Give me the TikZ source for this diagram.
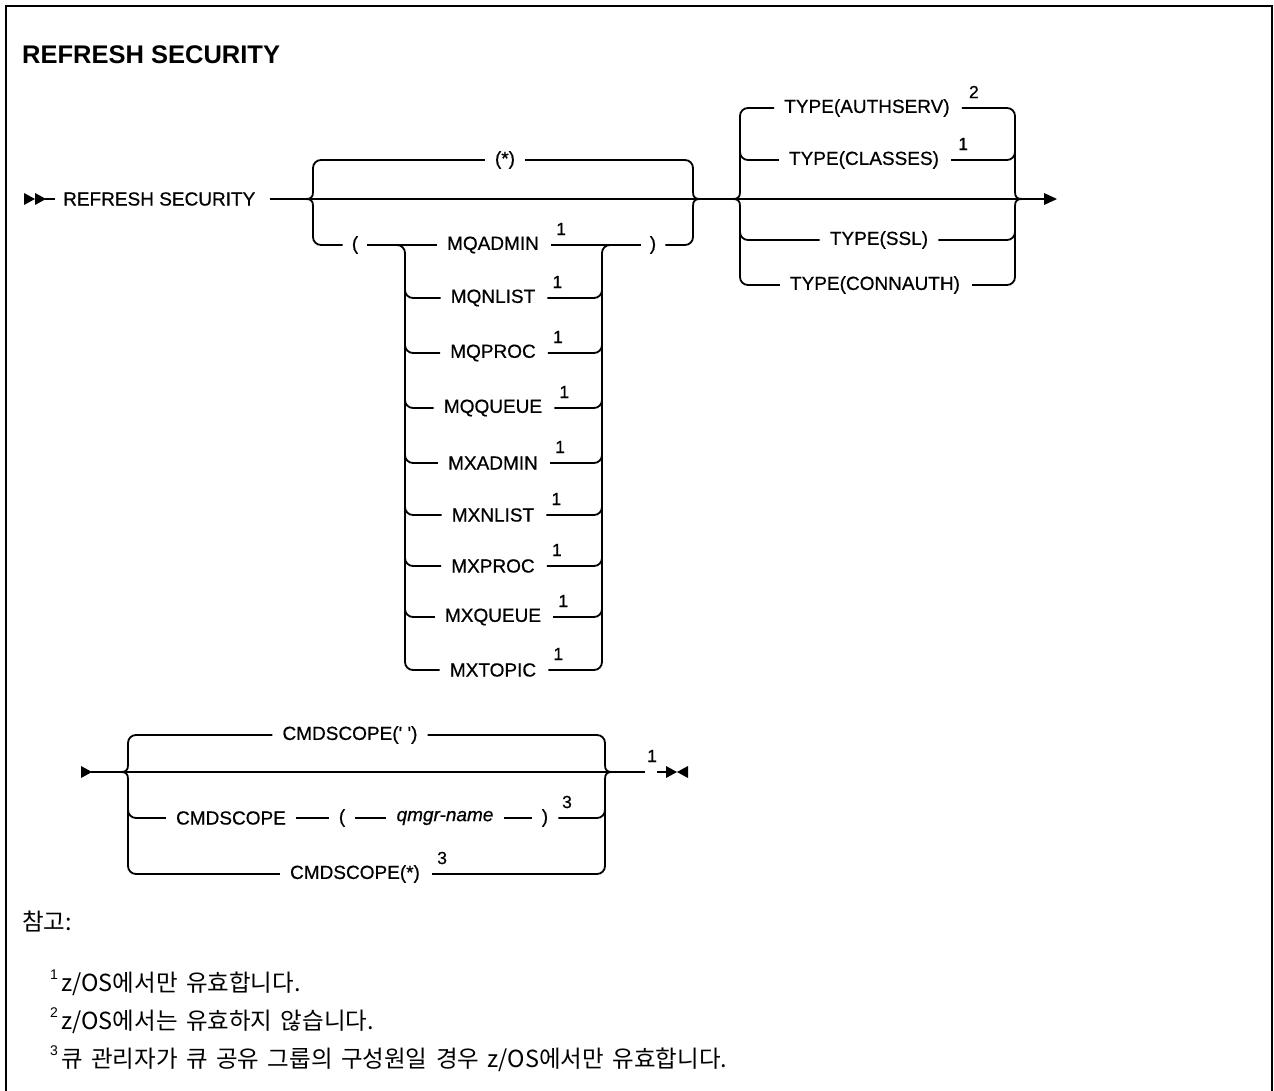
\documentclass[tikz,border=0pt]{standalone}
\usepackage{fontspec}
\setmainfont{Liberation Sans}
\newfontfamily\lblfont{Liberation Sans}[FakeBold=0.6]
\newfontfamily\krfont{Noto Sans CJK KR}[WordSpace=1.6]
\tikzset{
  rl/.style={line width=1.8pt},
  lbl/.style={font=\lblfont\fontsize{19}{23}\selectfont, inner sep=0pt},
  supn/.style={font=\lblfont\fontsize{17.5}{20}\selectfont, inner sep=0pt},
  frameline/.style={line width=2.5pt},
  notetxt/.style={font=\krfont\fontsize{23.5}{27}\selectfont, inner sep=0pt, anchor=west},
  notenum/.style={font=\fontsize{14}{16}\selectfont, inner sep=0pt},
}
\newcommand\lbrk[4]{%
  \draw[rl] (#1,#2+10) -- (#1,#3-7) .. controls (#1,#3-2) and (#1-2,#3) .. (#1-7,#3);
  \draw[rl] (#1,#4-10) -- (#1,#3+7) .. controls (#1,#3+2) and (#1-2,#3) .. (#1-7,#3);
}
\newcommand\rbrk[4]{%
  \draw[rl] (#1,#2+10) -- (#1,#3-7) .. controls (#1,#3-2) and (#1+2,#3) .. (#1+7,#3);
  \draw[rl] (#1,#4-10) -- (#1,#3+7) .. controls (#1,#3+2) and (#1+2,#3) .. (#1+7,#3);
}
\begin{document}
\begin{tikzpicture}[x=1pt,y=-1pt]
\useasboundingbox (0,0) rectangle (1274,1091);
% frame
\draw[frameline] (6,1091) -- (6,6) -- (1272,6) -- (1272,1091);
% title
\node[anchor=west, inner sep=0pt, font=\bfseries\fontsize{25.5}{29}\selectfont] (title) at (22,55) {REFRESH SECURITY};

% ===== first line =====
\fill (24,193) -- (35,199) -- (24,205) -- cycle;
\fill (35,193) -- (46,199) -- (35,205) -- cycle;
\node[lbl,anchor=west] (rs) at (63,199) {REFRESH SECURITY};
\coordinate (s0) at (45,199);
\coordinate (a1) at (306,199);
\coordinate (e1) at (1046,199);
\draw[rl] (s0) -- ([xshift=-8pt]rs.west);
\draw[rl] ([xshift=14pt]rs.east) -- (a1);
\draw[rl] (a1) -- (e1);
\fill (1044,193) -- (1057,199) -- (1044,205) -- cycle;

% group 1
\lbrk{313}{160}{199}{245}
\rbrk{693}{160}{199}{245}
\node[lbl] (st) at (505,160) {(*)};
\draw[rl,rounded corners=8pt] ([xshift=-10pt]st.west) -- (313,160) -- (313,172);
\draw[rl,rounded corners=8pt] ([xshift=10pt]st.east) -- (693,160) -- (693,172);
\node[lbl] (lp) at (355,245) {(};
\node[lbl] (rp) at (653,245) {)};
\draw[rl,rounded corners=8pt] (313,233) -- (313,245) -- ([xshift=-9pt]lp.west);
\draw[rl,rounded corners=8pt] (693,233) -- (693,245) -- ([xshift=9pt]rp.east);

% list
\foreach \yy/\tt [count=\i] in {245/MQADMIN,298/MQNLIST,353/MQPROC,408/MQQUEUE,463/MXADMIN,515/MXNLIST,566/MXPROC,617/MXQUEUE,670/MXTOPIC}{
  \node[lbl] (m\i) at (493,\yy) {\tt};
  \node[supn] (ms\i) at ([xshift=22pt,yshift=16pt]m\i.east) {1};
}
\draw[rl] ([xshift=9pt]lp.east) -- ([xshift=-10pt]m1.west);
\draw[rl,rounded corners=8pt] ([xshift=9pt]lp.east) -- (405,245) -- (405,670) -- ([xshift=-10pt]m9.west);
\draw[rl] ([xshift=12pt]m1.east) -- ([xshift=-9pt]rp.west);
\draw[rl,rounded corners=8pt] ([xshift=12pt]m9.east) -- (602,670) -- (602,245) -- ([xshift=-9pt]rp.west);
\foreach \yy [count=\i from 2] in {298,353,408,463,515,566,617}{
  \draw[rl,rounded corners=8pt] (405,\yy-12) -- (405,\yy) -- ([xshift=-10pt]m\i.west);
  \draw[rl,rounded corners=8pt] ([xshift=12pt]m\i.east) -- (602,\yy) -- (602,\yy-12);
}

% TYPE group
\lbrk{740}{108}{199}{285}
\rbrk{1015}{108}{199}{285}
\node[lbl] (t1) at (867,108) {TYPE(AUTHSERV)};
\node[supn] (ts1) at ([xshift=24pt,yshift=16pt]t1.east) {2};
\draw[rl,rounded corners=8pt] (740,120) -- (740,108) -- ([xshift=-10pt]t1.west);
\draw[rl,rounded corners=8pt] ([xshift=12pt]t1.east) -- (1015,108) -- (1015,120);
\node[lbl] (t2) at (864,160) {TYPE(CLASSES)};
\node[supn] (ts2) at ([xshift=24pt,yshift=16pt]t2.east) {1};
\draw[rl,rounded corners=8pt] (740,148) -- (740,160) -- ([xshift=-10pt]t2.west);
\draw[rl,rounded corners=8pt] ([xshift=12pt]t2.east) -- (1015,160) -- (1015,148);
\node[lbl] (t3) at (879,240) {TYPE(SSL)};
\draw[rl,rounded corners=8pt] (740,228) -- (740,240) -- ([xshift=-10pt]t3.west);
\draw[rl,rounded corners=8pt] ([xshift=10pt]t3.east) -- (1015,240) -- (1015,228);
\node[lbl] (t4) at (875,285) {TYPE(CONNAUTH)};
\draw[rl,rounded corners=8pt] (740,273) -- (740,285) -- ([xshift=-10pt]t4.west);
\draw[rl,rounded corners=8pt] ([xshift=12pt]t4.east) -- (1015,285) -- (1015,273);

% ===== second line =====
\fill (81,766) -- (92,772) -- (81,778) -- cycle;
\coordinate (b0) at (91,772);
\coordinate (b1) at (645,772);
\draw[rl] (b0) -- (b1);
\lbrk{128}{735}{772}{874}
\rbrk{605}{735}{772}{874}
\node[lbl] (c1) at (350,735) {CMDSCOPE(\textquotesingle\ \textquotesingle)};
\draw[rl,rounded corners=8pt] (128,747) -- (128,735) -- ([xshift=-10pt]c1.west);
\draw[rl,rounded corners=8pt] ([xshift=10pt]c1.east) -- (605,735) -- (605,747);
\node[lbl] (c2a) at (231,818) {CMDSCOPE};
\node[lbl] (c2b) at (342,818) {(};
\node[lbl] (c2c) at (445,818) {\itshape qmgr-name};
\node[lbl] (c2d) at (545,818) {)};
\node[supn] (c2s) at (567,802) {3};
\draw[rl,rounded corners=8pt] (128,806) -- (128,818) -- ([xshift=-10pt]c2a.west);
\draw[rl] ([xshift=10pt]c2a.east) -- ([xshift=-10pt]c2b.west);
\draw[rl] ([xshift=10pt]c2b.east) -- ([xshift=-10pt]c2c.west);
\draw[rl] ([xshift=10pt]c2c.east) -- ([xshift=-10pt]c2d.west);
\draw[rl,rounded corners=8pt] ([xshift=10pt]c2d.east) -- (605,818) -- (605,806);
\node[lbl] (c3) at (355,874) {CMDSCOPE(*)};
\node[supn] (c3s) at ([xshift=22pt,yshift=16pt]c3.east) {3};
\draw[rl,rounded corners=8pt] (128,862) -- (128,874) -- ([xshift=-10pt]c3.west);
\draw[rl,rounded corners=8pt] ([xshift=12pt]c3.east) -- (605,874) -- (605,862);
% end
\node[supn] (fs) at (652,756) {1};
\coordinate (b2) at (657,772);
\coordinate (b3) at (667,772);
\draw[rl] (b2) -- (b3);
\fill (666,766) -- (677,772) -- (666,778) -- cycle;
\fill (688,766) -- (677,772) -- (688,778) -- cycle;

% ===== notes =====
\node[notetxt] (nh) at (22,922) {참고:};
\node[notenum] (n1) at (54,975) {1};
\node[notetxt] (n1t) at (61,984) {z/OS에서만 유효합니다.};
\node[notenum] (n2) at (54,1013) {2};
\node[notetxt] (n2t) at (61,1022) {z/OS에서는 유효하지 않습니다.};
\node[notenum] (n3) at (54,1051) {3};
\node[notetxt] (n3t) at (61,1060) {큐 관리자가 큐 공유 그룹의 구성원일 경우 z/OS에서만 유효합니다.};
\end{tikzpicture}
\end{document}
